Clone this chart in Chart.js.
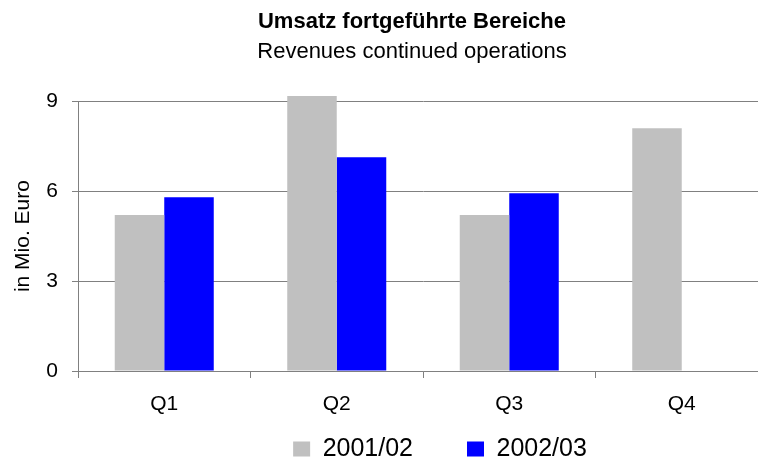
<!DOCTYPE html>
<html>
<head>
<meta charset="utf-8">
<script src="https://cdn.jsdelivr.net/npm/chart.js@4.4.1/dist/chart.umd.min.js"></script>
<style>
    html, body { margin: 0; padding: 0; overflow: hidden; background: #fff; }
    /* plot runs past the right edge in the reference, so the chart is a bit wider than the window */
    #wrap { width: 790px; height: 459px; }
</style>
</head>
<body>
<div id="wrap"><canvas id="chart"></canvas></div>
<script>
const quarters = ['Q1', 'Q2', 'Q3', 'Q4'];
const revenue2001 = [5.2, 9.17, 5.2, 8.1];
const revenue2002 = [5.8, 7.13, 5.93, null];
const yTicks = [0, 3, 6, 9];

const FONT = "'Liberation Sans', Arial, sans-serif";
const GRID = '#808080';

// put the titles and the legend where they sit in the reference
const nudge = {
    id: 'nudge',
    afterLayout(chart) {
        const centre = (box, x) => {
            const dx = x - (box.left + box.right) / 2;
            box.left += dx;
            box.right += dx;
        };
        chart.boxes.forEach(box => {
            if (!box.axis && box !== chart.legend && box.options && box.options.text) {
                centre(box, 412);
            }
        });
        const lg = chart.legend;
        centre(lg, 440);
        // legend is clipped to its box, so give it room for the padding above the row
        const pad = lg.options.labels.padding;
        lg.top = 449 - pad - 12.5;
        lg.height = pad + 25 + 10;
        lg.bottom = lg.top + lg.height;
    }
};

const ctx = document.getElementById('chart');

new Chart(ctx, {
    type: 'bar',
    data: {
        labels: quarters,
        datasets: [{
                label: '2001/02',
                data: revenue2001,
                backgroundColor: '#C0C0C0',
                borderWidth: 0
            },
            {
                label: '2002/03',
                data: revenue2002,
                backgroundColor: '#0000FF',
                borderWidth: 0
            }
        ]
    },
    options: {
        responsive: true,
        maintainAspectRatio: false,
        animation: false,
        clip: false,
        categoryPercentage: 0.574,
        barPercentage: 1,
        layout: { padding: { left: 0, right: 22, top: 0, bottom: 0 } },
        plugins: {
            title: {
                display: true,
                text: 'Umsatz fortgeführte Bereiche',
                color: '#000',
                font: { family: FONT, size: 22, weight: 'bold' },
                padding: { top: 9, bottom: 0 }
            },
            subtitle: {
                display: true,
                text: 'Revenues continued operations',
                color: '#000',
                font: { family: FONT, size: 22 },
                padding: { top: 3, bottom: 36.4 }
            },
            legend: {
                position: 'bottom',
                maxHeight: 44,
                labels: {
                    color: '#000',
                    font: { family: FONT, size: 25 },
                    boxWidth: 17,
                    boxHeight: 15,
                    padding: 54
                }
            },
            tooltip: { enabled: false }
        },
        scales: {
            x: {
                afterFit: s => { s.height = 44; },
                grid: {
                    drawOnChartArea: false,
                    offset: true,
                    tickLength: 7,
                    color: GRID
                },
                border: { color: GRID },
                ticks: { color: '#000', font: { family: FONT, size: 21 }, padding: 14 }
            },
            y: {
                min: 0,
                max: 9,
                afterFit: s => { s.width = 78; },
                afterBuildTicks: s => { s.ticks = yTicks.map(v => ({ value: v })); },
                grid: { color: GRID, tickLength: 6 },
                border: { color: GRID },
                ticks: { color: '#000', font: { family: FONT, size: 21 }, padding: 14 },
                title: {
                    display: true,
                    text: 'in Mio. Euro',
                    color: '#000',
                    font: { family: FONT, size: 21 },
                    padding: { top: 11, bottom: 0 }
                }
            }
        }
    },
    plugins: [nudge]
});
</script>
</body>
</html>
